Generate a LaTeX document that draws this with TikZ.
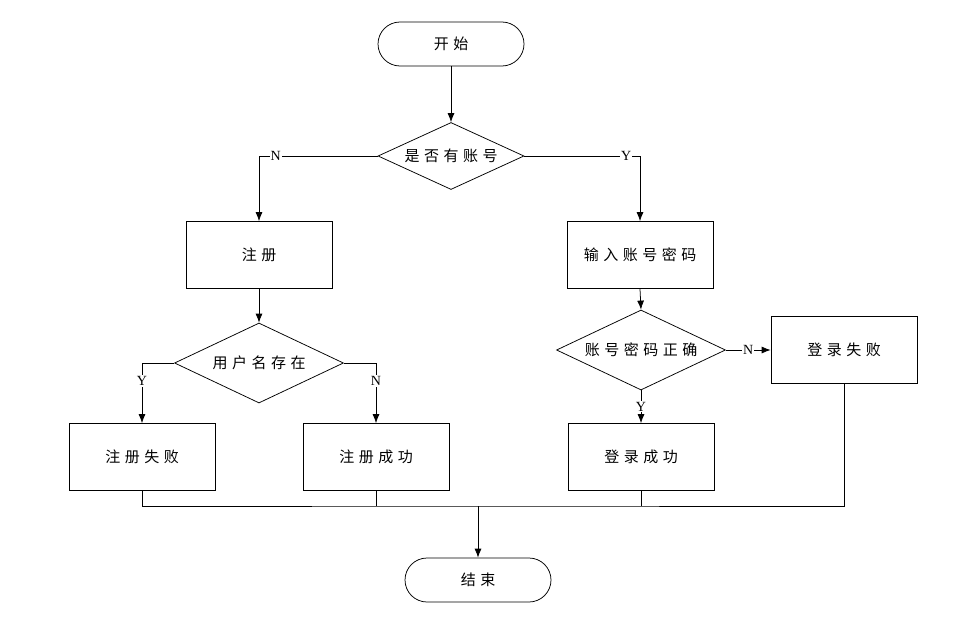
\documentclass[tikz,border=0pt]{standalone}
\usepackage{fontspec}
\setmainfont{Liberation Serif}
\newfontfamily\cjk[LetterSpace=30]{Noto Sans CJK SC}
\usetikzlibrary{
    arrows.meta,
    shapes.geometric
}

\begin{document}
\begin{tikzpicture}[x=1pt, y=-1pt, line width=0.75pt, >={Latex[length=9pt,width=7pt]},
    every node/.style={font=\cjk\fontsize{15}{17}\selectfont},
    term/.style={draw, rectangle, rounded corners=22pt, minimum width=146pt, minimum height=44pt},
    box/.style={draw, rectangle, minimum width=146pt, minimum height=67pt},
    choice/.style={draw, diamond, inner sep=0pt, aspect=2.12, minimum width=169pt, minimum height=80pt},
    yn/.style={fill=white, inner sep=1pt, font=\fontsize{14}{16}\selectfont}]
                        \useasboundingbox (0, 0) rectangle (953, 629);
                        \node[term] (start) at (451, 44) {开始};
                        \node[choice, aspect=2.18, minimum width=146pt, minimum height=67pt] (hasacc) at (451, 156) {是否有账号};
                        \node[box] (reg) at (259, 255) {注册};
                        \node[box] (input) at (640, 255) {输入账号密码};
                        \node[choice] (exists) at (259, 363) {用户名存在};
                        \node[choice] (pwdok) at (641, 350) {账号密码正确};
                        \node[box] (regfail) at (142, 457) {注册失败};
                        \node[box] (regok) at (376, 457) {注册成功};
                        \node[box] (loginok) at (641, 457) {登录成功};
                        \node[box] (loginfail) at (844, 350) {登录失败};
                        \node[term] (finish) at (478, 580) {结束};
                        \coordinate (merge) at (478, 506);
                        \draw
                        (start) edge[->] (hasacc)
                        (reg) edge[->] (exists)
                        (input.south) edge[->] (pwdok.north);
                        \draw[->] (hasacc.west) -| node[yn, pos=0.43] {N} (reg.north);
                        \draw[->] (hasacc.east) -| node[yn, pos=0.44] {Y} (input.north);
                        \draw[->] (exists.west) -| node[yn, pos=0.65] {Y} (regfail.north);
                        \draw[->] (exists.east) -| node[yn, pos=0.65] {N} (regok.north);
                        \draw[->] (pwdok.east) -- node[yn] {N} (loginfail.west);
                        \draw[->] (pwdok.south) -- node[yn] {Y} (loginok.north);
                        % join the four ends
                        \draw (regfail.south) |- (merge) -| (loginfail.south);
                        \draw (regok.south) -- (regok.south |- merge);
                        \draw (loginok.south) -- (loginok.south |- merge);
                        \draw[->] (merge) -- (finish);
                    \end{tikzpicture}
\end{document}
